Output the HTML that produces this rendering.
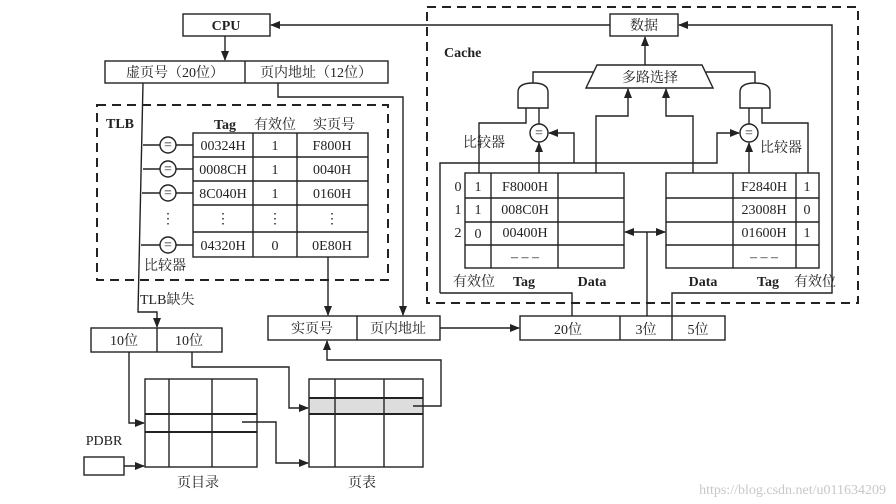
<!DOCTYPE html>
<html><head><meta charset="utf-8"><style>
html,body{margin:0;padding:0;background:#fff;}
svg{display:block;}
text{font-family:"Liberation Serif","Noto Serif CJK SC",serif;font-size:14px;fill:#222;}
.b{font-weight:bold;}
</style></head><body>
<svg width="896" height="504" viewBox="0 0 896 504" xmlns="http://www.w3.org/2000/svg">
<defs>
<marker id="a" markerWidth="10" markerHeight="10" refX="9" refY="5" orient="auto" markerUnits="userSpaceOnUse">
<path d="M0,1 L10,5 L0,9 Z" fill="#222"/></marker>
<marker id="s" markerWidth="10" markerHeight="10" refX="1" refY="5" orient="auto" markerUnits="userSpaceOnUse">
<path d="M10,1 L0,5 L10,9 Z" fill="#222"/></marker>
</defs>
<g stroke="#222" stroke-width="1.4" fill="none">
<!-- CPU -->
<rect x="183" y="14" width="87" height="22"/>
<line x1="225" y1="36" x2="225" y2="60" marker-end="url(#a)"/>
<rect x="105" y="61" width="283" height="22"/>
<line x1="245" y1="61" x2="245" y2="83"/>
<!-- line data->CPU -->
<line x1="610" y1="25" x2="271" y2="25" marker-end="url(#a)"/>
<!-- TLB dashed -->
<rect x="97" y="105" width="291" height="175" stroke-dasharray="9,6" stroke-width="2"/>
<rect x="193" y="133" width="175" height="124"/>
<line x1="193" y1="157" x2="368" y2="157"/><line x1="193" y1="181" x2="368" y2="181"/>
<line x1="193" y1="205" x2="368" y2="205"/><line x1="193" y1="232" x2="368" y2="232"/>
<line x1="253" y1="133" x2="253" y2="257"/><line x1="297" y1="133" x2="297" y2="257"/>
<path d="M143,83 L138,312 L157,312 L157,327" marker-end="url(#a)"/>
<g>
<line x1="143" y1="145" x2="160" y2="145"/><circle cx="168" cy="145" r="8"/><line x1="176" y1="145" x2="193" y2="145"/>
<line x1="143" y1="169" x2="160" y2="169"/><circle cx="168" cy="169" r="8"/><line x1="176" y1="169" x2="193" y2="169"/>
<line x1="142" y1="193" x2="160" y2="193"/><circle cx="168" cy="193" r="8"/><line x1="176" y1="193" x2="193" y2="193"/>
<line x1="141" y1="245" x2="160" y2="245"/><circle cx="168" cy="245" r="8"/><line x1="176" y1="245" x2="193" y2="245"/>
</g>
<line x1="328" y1="257" x2="328" y2="315" marker-end="url(#a)"/>
<path d="M278,83 L278,97 L403,97 L403,315" marker-end="url(#a)"/>
<!-- physical addr -->
<rect x="268" y="316" width="172" height="24"/><line x1="357" y1="316" x2="357" y2="340"/>
<line x1="440" y1="328" x2="519" y2="328" marker-end="url(#a)"/>
<rect x="520" y="316" width="205" height="24"/>
<line x1="620" y1="316" x2="620" y2="340"/><line x1="672" y1="316" x2="672" y2="340"/>
<!-- Cache dashed -->
<rect x="427" y="7" width="431" height="296" stroke-dasharray="9,6" stroke-width="2"/>
<rect x="610" y="14" width="68" height="22"/>
<path d="M672,316 L672,293 L832,293 L832,25 L679,25" marker-end="url(#a)"/>
<line x1="645" y1="65" x2="645" y2="37" marker-end="url(#a)"/>
<polygon points="597,65 702,65 713,88 586,88"/>
<!-- gates -->
<path d="M518,108 L518,92 Q518,83 533,83 Q548,83 548,92 L548,108 Z"/>
<path d="M740,108 L740,92 Q740,83 755,83 Q770,83 770,92 L770,108 Z"/>
<path d="M533,83 L533,72 L593,72"/>
<path d="M755,83 L755,72 L706,72"/>
<circle cx="539" cy="133" r="9"/><circle cx="749" cy="133" r="9"/>
<line x1="539" y1="108" x2="539" y2="124"/>
<path d="M526,108 L526,123 L479,123 L479,173"/>
<line x1="749" y1="108" x2="749" y2="124"/>
<path d="M762,108 L762,123 L808,123 L808,173"/>
<line x1="539" y1="173" x2="539" y2="143" marker-end="url(#a)"/>
<line x1="749" y1="173" x2="749" y2="143" marker-end="url(#a)"/>
<path d="M440,293 L440,163 L717,163 L717,133 L739,133" marker-end="url(#a)"/>
<path d="M574,163 L574,133 L549,133" marker-end="url(#a)"/>
<path d="M572,316 L572,293 L440,293"/>
<path d="M596,173 L596,116 L628,116 L628,89" marker-end="url(#a)"/>
<path d="M693,173 L693,116 L666,116 L666,89" marker-end="url(#a)"/>
<!-- cache tables -->
<rect x="465" y="173" width="159" height="95"/>
<line x1="465" y1="198" x2="624" y2="198"/><line x1="465" y1="222" x2="624" y2="222"/><line x1="465" y1="245" x2="624" y2="245"/>
<line x1="491" y1="173" x2="491" y2="268"/><line x1="558" y1="173" x2="558" y2="268"/>
<rect x="666" y="173" width="153" height="95"/>
<line x1="666" y1="198" x2="819" y2="198"/><line x1="666" y1="222" x2="819" y2="222"/><line x1="666" y1="245" x2="819" y2="245"/>
<line x1="733" y1="173" x2="733" y2="268"/><line x1="796" y1="173" x2="796" y2="268"/>
<line x1="625" y1="232" x2="665" y2="232" marker-start="url(#s)" marker-end="url(#a)"/>
<line x1="647" y1="232" x2="647" y2="316"/>
<!-- 10位 box -->
<rect x="91" y="328" width="131" height="24"/><line x1="157" y1="328" x2="157" y2="352"/>
<!-- page dir -->
<rect x="145" y="379" width="112" height="88"/>
<line x1="169" y1="379" x2="169" y2="467"/><line x1="212" y1="379" x2="212" y2="467"/>
<line x1="145" y1="414" x2="257" y2="414" stroke-width="2"/><line x1="145" y1="432" x2="257" y2="432" stroke-width="2"/>
<rect x="309" y="398" width="114" height="16" fill="#ddd" stroke="none"/>
<rect x="309" y="379" width="114" height="88"/>
<line x1="335" y1="379" x2="335" y2="467"/><line x1="384" y1="379" x2="384" y2="467"/>
<line x1="309" y1="398" x2="423" y2="398" stroke-width="2"/><line x1="309" y1="414" x2="423" y2="414" stroke-width="2"/>
<path d="M129,352 L129,423 L144,423" marker-end="url(#a)"/>
<path d="M192,352 L192,367 L289,367 L289,408 L308,408" marker-end="url(#a)"/>
<path d="M242,422 L276,422 L276,463 L308,463" marker-end="url(#a)"/>
<rect x="84" y="457" width="40" height="18"/>
<line x1="124" y1="466" x2="144" y2="466" marker-end="url(#a)"/>
<path d="M413,406 L441,406 L441,360 L327,360 L327,341" marker-end="url(#a)"/>
</g>
<g font-size="14">
<text x="226" y="30" text-anchor="middle" class="b">CPU</text>
<text x="175" y="77" text-anchor="middle">虚页号（20位）</text>
<text x="316" y="77" text-anchor="middle">页内地址（12位）</text>
<text x="106" y="128" class="b">TLB</text>
<text x="225" y="129" text-anchor="middle" class="b">Tag</text>
<text x="275" y="129" text-anchor="middle">有效位</text>
<text x="334" y="129" text-anchor="middle">实页号</text>
<text x="223" y="150" text-anchor="middle">00324H</text><text x="275" y="150" text-anchor="middle">1</text><text x="332" y="150" text-anchor="middle">F800H</text>
<text x="223" y="174" text-anchor="middle">0008CH</text><text x="275" y="174" text-anchor="middle">1</text><text x="332" y="174" text-anchor="middle">0040H</text>
<text x="223" y="198" text-anchor="middle">8C040H</text><text x="275" y="198" text-anchor="middle">1</text><text x="332" y="198" text-anchor="middle">0160H</text>
<text x="223" y="223" text-anchor="middle">⋮</text><text x="275" y="223" text-anchor="middle">⋮</text><text x="332" y="223" text-anchor="middle">⋮</text><text x="168" y="223" text-anchor="middle">⋮</text>
<text x="223" y="250" text-anchor="middle">04320H</text><text x="275" y="250" text-anchor="middle">0</text><text x="332" y="250" text-anchor="middle">0E80H</text>
<text x="168" y="149" text-anchor="middle" font-size="11">=</text><text x="168" y="173" text-anchor="middle" font-size="11">=</text>
<text x="168" y="197" text-anchor="middle" font-size="11">=</text><text x="168" y="249" text-anchor="middle" font-size="11">=</text>
<text x="144" y="270">比较器</text>
<text x="140" y="304">TLB缺失</text>
<text x="124" y="345" text-anchor="middle">10位</text><text x="189" y="345" text-anchor="middle">10位</text>
<text x="312" y="333" text-anchor="middle">实页号</text><text x="398" y="333" text-anchor="middle">页内地址</text>
<text x="568" y="334" text-anchor="middle">20位</text><text x="646" y="334" text-anchor="middle">3位</text><text x="698" y="334" text-anchor="middle">5位</text>
<text x="644" y="30" text-anchor="middle">数据</text>
<text x="444" y="57" class="b">Cache</text>
<text x="650" y="82" text-anchor="middle">多路选择</text>
<text x="539" y="137" text-anchor="middle" font-size="11">=</text><text x="749" y="137" text-anchor="middle" font-size="11">=</text>
<text x="484" y="147" text-anchor="middle">比较器</text><text x="781" y="152" text-anchor="middle">比较器</text>
<text x="458" y="191" text-anchor="middle">0</text><text x="458" y="214" text-anchor="middle">1</text><text x="458" y="237" text-anchor="middle">2</text>
<text x="478" y="191" text-anchor="middle">1</text><text x="478" y="214" text-anchor="middle">1</text><text x="478" y="238" text-anchor="middle">0</text>
<text x="525" y="191" text-anchor="middle">F8000H</text><text x="525" y="214" text-anchor="middle">008C0H</text><text x="525" y="237" text-anchor="middle">00400H</text><text x="525" y="261" text-anchor="middle">– – –</text>
<text x="764" y="191" text-anchor="middle">F2840H</text><text x="764" y="214" text-anchor="middle">23008H</text><text x="764" y="237" text-anchor="middle">01600H</text><text x="764" y="261" text-anchor="middle">– – –</text>
<text x="807" y="191" text-anchor="middle">1</text><text x="807" y="214" text-anchor="middle">0</text><text x="807" y="237" text-anchor="middle">1</text>
<text x="474" y="286" text-anchor="middle">有效位</text><text x="524" y="286" text-anchor="middle" class="b">Tag</text><text x="592" y="286" text-anchor="middle" class="b">Data</text>
<text x="703" y="286" text-anchor="middle" class="b">Data</text><text x="768" y="286" text-anchor="middle" class="b">Tag</text><text x="815" y="286" text-anchor="middle">有效位</text>
<text x="104" y="445" text-anchor="middle">PDBR</text>
<text x="198" y="487" text-anchor="middle">页目录</text>
<text x="362" y="487" text-anchor="middle">页表</text>
<text x="886" y="494" text-anchor="end" font-family="Liberation Sans, sans-serif" font-size="13" style="fill:#c8c8c8">https://blog.csdn.net/u011634209</text>
</g>
</svg>
</body></html>
